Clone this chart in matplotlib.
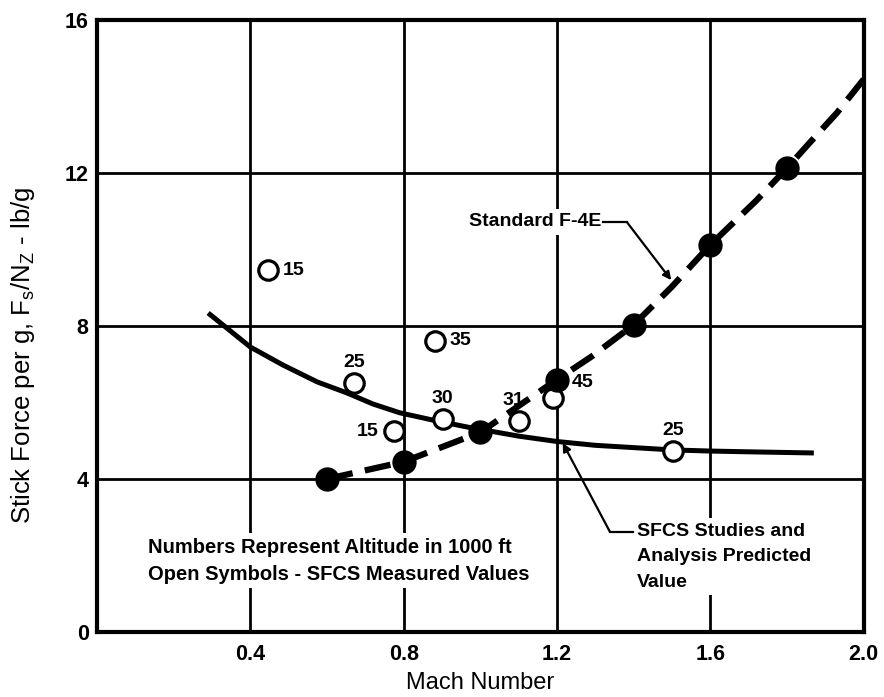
import matplotlib
import matplotlib.pyplot as plt

matplotlib.use('Agg')

plt.rcParams['font.family'] = ['Liberation Sans', 'DejaVu Sans']

# Standard F-4E (filled symbols, dashed curve)
std_mach = [0.6, 0.8, 1.0, 1.2, 1.4, 1.6, 1.8]
std_force = [4.0, 4.45, 5.22, 6.6, 8.03, 10.12, 12.13]
std_curve_mach = [0.6, 0.8, 1.0, 1.2, 1.29, 1.4, 1.5, 1.6, 1.72, 1.8, 1.86, 1.93, 2.0]
std_curve_force = [4.0, 4.45, 5.22, 6.6, 7.2, 8.03, 9.03, 10.12, 11.28, 12.13, 12.8, 13.57, 14.45]

# SFCS predicted (solid curve)
pred_mach = [0.29, 0.4, 0.485, 0.574, 0.652, 0.72, 0.79, 0.876, 0.965, 1.1, 1.2,
             1.3, 1.4, 1.5, 1.6, 1.7, 1.87]
pred_force = [8.34, 7.45, 6.98, 6.54, 6.25, 5.96, 5.73, 5.54, 5.36, 5.12, 4.98,
              4.88, 4.82, 4.76, 4.73, 4.71, 4.68]

# SFCS measured (open symbols) with altitude labels
meas_mach = [0.446, 0.67, 0.881, 0.774, 0.902, 1.10, 1.189, 1.502]
meas_force = [9.46, 6.51, 7.61, 5.25, 5.57, 5.52, 6.12, 4.73]
meas_alt = ['15', '25', '35', '15', '30', '31', '45', '25']
# label offsets in points (dx, dy)
meas_off = [(11, 0), (0, 15), (11, 0), (-11, 0), (0, 15), (-4, 15), (14, 11), (0, 15)]
meas_ha = ['left', 'center', 'left', 'right', 'center', 'center', 'left', 'center']

x_ticks = [0.4, 0.8, 1.2, 1.6, 2.0]
y_ticks = [0, 4, 8, 12, 16]

fig = plt.figure(figsize=(8.84, 6.97), dpi=100)
ax = fig.add_axes([0.1097, 0.0933, 0.8673, 0.878])

ax.set_xlim(0, 2.0)
ax.set_ylim(0, 16)
ax.set_xticks(x_ticks)
ax.set_xticklabels(['%.1f' % v for v in x_ticks])
ax.set_yticks(y_ticks)
ax.tick_params(length=0, labelsize=15.5)
ax.tick_params(axis='x', pad=9)
ax.tick_params(axis='y', pad=6)
for lab in ax.get_xticklabels() + ax.get_yticklabels():
    lab.set_fontweight('bold')
ax.set_axisbelow(True)
ax.grid(True, color='black', linewidth=2)
for sp in ax.spines.values():
    sp.set_linewidth(3)

ax.set_xlabel('Mach Number', fontsize=17, labelpad=5)
ax.set_ylabel(r'Stick Force per g, F$_\mathregular{s}$/N$_\mathregular{Z}$ - lb/g',
              fontsize=18.5)
ax.yaxis.set_label_coords(-0.078, 0.452)

# curves
ax.plot(pred_mach, pred_force, color='black', linewidth=3.6, zorder=4,
        solid_capstyle='butt', solid_joinstyle='round')
ax.plot(std_curve_mach, std_curve_force, color='black', linewidth=4.5,
        dashes=(4.2, 2.0), zorder=4)

# symbols
ax.plot(meas_mach, meas_force, 'o', markersize=14, markerfacecolor='white',
        markeredgecolor='black', markeredgewidth=2.3, zorder=5)
ax.plot(std_mach, std_force, 'o', markersize=16.5, color='black', zorder=6)

for mx, fy, alt, off, ha in zip(meas_mach, meas_force, meas_alt, meas_off, meas_ha):
    ax.annotate(alt, (mx, fy), xytext=off, textcoords='offset points',
                ha=ha, va='center', fontsize=14, fontweight='bold', zorder=7)

box = dict(facecolor='white', edgecolor='none', pad=3)

# Standard F-4E leader
ax.text(1.315, 10.72, 'Standard F-4E', ha='right', va='center', fontsize=14,
        fontweight='bold', bbox=box, zorder=3)
ax.plot([1.32, 1.382], [10.72, 10.72], color='black', linewidth=1.6, zorder=4)
ax.annotate('', xy=(1.498, 9.2), xytext=(1.382, 10.72),
            arrowprops=dict(arrowstyle='-|>', color='black', lw=1.6,
                            mutation_scale=12, shrinkA=0, shrinkB=0), zorder=4)

# SFCS predicted leader
ax.text(1.408, 2.86, 'SFCS Studies and\nAnalysis Predicted\nValue', ha='left',
        va='top', fontsize=14, fontweight='bold', linespacing=1.68,
        bbox=box, zorder=3)
ax.plot([1.338, 1.398], [2.62, 2.62], color='black', linewidth=1.6, zorder=4)
ax.annotate('', xy=(1.215, 4.94), xytext=(1.338, 2.62),
            arrowprops=dict(arrowstyle='-|>', color='black', lw=1.6,
                            mutation_scale=12, shrinkA=0, shrinkB=0), zorder=4)

ax.text(0.133, 1.86, 'Numbers Represent Altitude in 1000 ft\nOpen Symbols - SFCS Measured Values',
        ha='left', va='center', fontsize=14.5, fontweight='bold', linespacing=1.55,
        bbox=box, zorder=3)

fig.savefig('out.png', dpi=100)
